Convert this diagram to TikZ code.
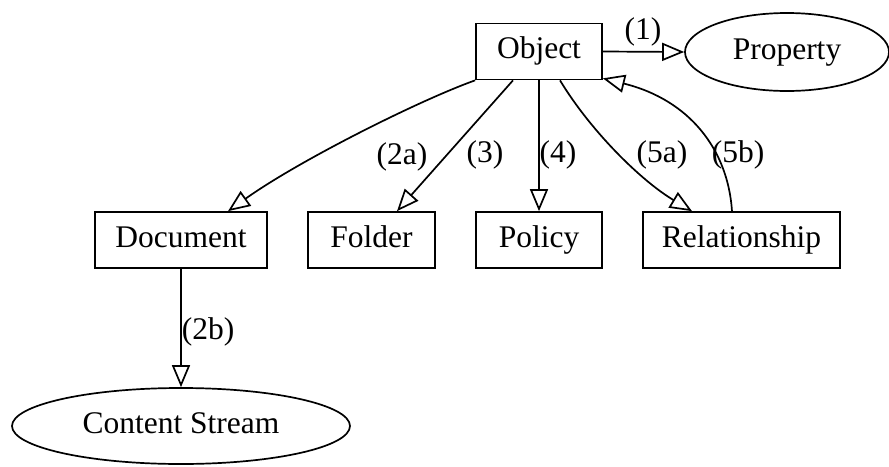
\documentclass[tikz,border=0pt]{standalone}
\usepackage{fontspec}
\setmainfont{Liberation Serif}
\usetikzlibrary{shapes.geometric,arrows.meta}

\tikzset{
  every node/.style={font=\fontsize{31.5}{36}\selectfont, inner sep=0pt,
    text height=21pt, text depth=7pt},
  box/.style={draw, line width=1.7pt, rectangle, minimum height=56pt},
  oval/.style={draw, line width=1.7pt, ellipse},
  edge/.style={line width=1.7pt, -{Triangle[open, length=22pt, width=18pt, line width=1.7pt]}},
  lbl/.style={anchor=center}
}

\begin{document}
\begin{tikzpicture}[x=1pt, y=-1pt]
  \useasboundingbox (0,0) rectangle (889,466);

  % nodes
  \node[box, minimum width=126pt] (obj) at (539,51.5) {Object};
  \node[oval, minimum width=204pt, minimum height=78pt] (prop) at (787,52) {Property};
  \node[box, minimum width=172pt] (doc) at (181,240) {Document};
  \node[box, minimum width=127pt] (fold) at (371.5,240) {Folder};
  \node[box, minimum width=126pt] (pol) at (539,240) {Policy};
  \node[box, minimum width=197pt] (rel) at (741.5,240) {Relationship};
  \node[oval, minimum width=338pt, minimum height=76pt] (cs) at (181,426) {Content Stream};

  % connectors
  \draw[edge] (obj.east) -- (prop.west);
  \draw[edge] (obj.south west) .. controls (420,100) and (300,160) .. ([xshift=47pt]doc.north);
  \draw[edge] ([xshift=-26pt]obj.south) -- ([xshift=25.5pt]fold.north);
  \draw[edge] (obj.south) -- (pol.north);
  \draw[edge] ([xshift=21pt]obj.south) .. controls (590,130) and (640,180) .. ([xshift=-49.5pt]rel.north);
  \draw[edge] ([xshift=-9.5pt]rel.north) .. controls (728,150) and (690,100) .. ([yshift=2pt]obj.south east);
  \draw[edge] (doc.south) -- (cs.north);

  % connector labels
  \node[lbl] (l1) at (643,32) {(1)};
  \node[lbl] (l2a) at (402,157) {(2a)};
  \node[lbl] (l3) at (485,155) {(3)};
  \node[lbl] (l4) at (558,155) {(4)};
  \node[lbl] (l5a) at (662,155) {(5a)};
  \node[lbl] (l5b) at (738,155) {(5b)};
  \node[lbl] (l2b) at (208,332) {(2b)};
\end{tikzpicture}
\end{document}
